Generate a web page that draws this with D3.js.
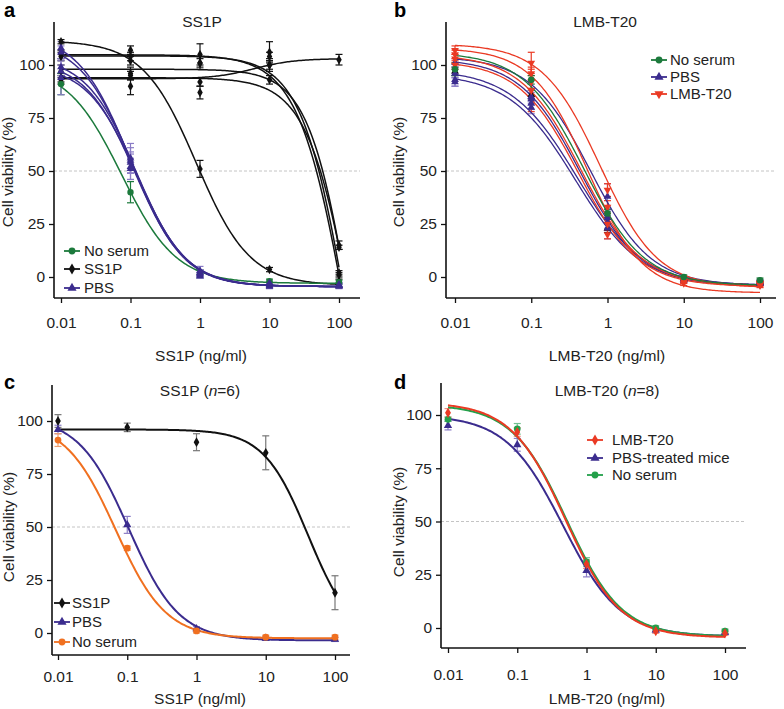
<!DOCTYPE html>
<html><head><meta charset="utf-8">
<script src="https://cdn.jsdelivr.net/npm/d3@7"></script>
<style>body{margin:0;background:#fff}</style></head><body>
<svg id="chart" width="784" height="709"></svg>
<script>
// ---------- data ----------
const doses = [0.01, 0.1, 1, 10, 100];
const doseTickLabels = ["0.01", "0.1", "1", "10", "100"];
const yTicks = [0, 25, 50, 75, 100];

// fit parameters: [low-dose asymptote, high-dose asymptote, EC50 (ng/ml), Hill slope]
// Panel a
const aBlackFits = [[111.5, -4, 0.885, 1.13], [104.8, -150, 135, 1.235], [104.3, -150, 140, 1.3], [98, -150, 162, 1.396], [94, -150, 175, 1.287], [93.5, 103, 6, 1.5]];
const aBlackPts = [[111, 102, 51, 3.5, -2], [105, 107, 105, 106, 1], [104, 104, 101, 104, 2], [97, 96, 101, 100, 15], [93, 90, 87, 93, 14], [94, 95, 92, 100, 102.5]];
const aBlackErr = [[1, 2, 4, 1, 1], [2, 2, 5, 5, 1], [2, 2, 2, 2, 1], [3, 3, 3, 3, 2], [2, 4, 3, 2, 1], [2, 2, 2, 2, 2.5]];
const aPurpleFits = [[115, -4.5, 0.1, 1.15], [112, -4.5, 0.105, 1.15], [104, -4.5, 0.12, 1.2], [102, -4.5, 0.118, 1.2], [100, -4.5, 0.125, 1.2]];
const aPurplePts = [[108, 56, 2, -3.5, -4], [106, 55, 1, -4, -4.5], [99, 54, 3, -3, -3.5], [97, 52, 0.5, -4.5, -4], [94, 51, 1.5, -3, -4]];
const aPurpleErr = [[3, 7, 1, 1, 1], [3, 6, 1, 1, 1], [4, 5, 2, 1, 1], [3, 6, 1, 1, 1], [8, 5, 2, 1, 1]];
const aGreenFits = [[100, -3, 0.074, 1.1]];
const aGreenPts = [[91, 40, 1.5, -2, -2.5]];
const aGreenErr = [[5, 5, 2, 1, 1]];

// Panel b
const bRedFits = [[110, -5, 0.8, 1.15], [108, -7.5, 0.55, 1.2], [105, -4, 0.45, 1.1], [102, -4.5, 0.42, 1.1]];
const bRedPts = [[107, 101, 41, -2, -3], [105, 96, 33, -3, -4], [103, 92, 20, -2, -3], [100, 88, 25, -1.5, -3.5]];
const bRedErr = [[2, 5, 3, 1, 1], [2, 3, 3, 1, 1], [2, 3, 2, 1, 1], [2, 10, 3, 1, 1]];
const bGreenFits = [[106, -4, 0.49, 1.1]];
const bGreenPts = [[98, 93, 30, 0, -1.5]];
const bGreenErr = [[3, 2, 2, 1, 1]];
const bPurpleFits = [[104, -4, 0.6, 1.1], [103, -4, 0.44, 1.1], [98, -4, 0.4, 1.0], [96, -4.5, 0.38, 1.0]];
const bPurplePts = [[93, 85, 38, -1, -2.5], [92, 82, 26, -1.5, -3], [101, 80, 23, -1, -2.5], [96, 84, 28, -1, -3]];
const bPurpleErr = [[3, 3, 6, 1, 1], [2, 3, 3, 1, 1], [2, 3, 5, 1, 1], [2, 3, 3, 1, 1]];
const bBlackPts = [[97, 86, 23, -1, -2.5]];
const bBlackErr = [[2, 2, 2, 1, 1]];

// Panel c
const cBlackFits = [[96, -4, 41, 1.35]];
const cBlackPts = [[100, 97, 90, 85, 19]];
const cBlackErr = [[3, 2, 4, 8, 8]];
const cPurpleFits = [[102, -3.5, 0.105, 1.2]];
const cPurplePts = [[96, 51, 2, -2.5, -3]];
const cPurpleErr = [[2, 4, 1, 1, 1]];
const cOrangeFits = [[100, -2.5, 0.068, 1.2]];
const cOrangePts = [[91, 40, 1, -2, -2]];
const cOrangeErr = [[3, 1, 1, 1, 1]];

// Panel d
const dRedFits = [[106, -4.5, 0.5, 1.1]];
const dRedPts = [[101, 92, 30, -1.5, -2.5]];
const dRedErr = [[2, 2, 2, 1, 1]];
const dGreenFits = [[105, -4, 0.52, 1.1]];
const dGreenPts = [[98, 93.5, 31, 0, -1.5]];
const dGreenErr = [[1, 2.5, 2, 1, 1]];
const dPurpleFits = [[100, -4, 0.46, 1.05]];
const dPurplePts = [[95, 86, 27, -1, -2]];
const dPurpleErr = [[2, 3, 3, 1, 1]];

// ---------- styles ----------
const FONT = "'Liberation Sans', Arial, Helvetica, sans-serif";
const C = { black: "#111", purple: "#3b2c8e", purpleErr: "#8a7cc6", green: "#1c7a3c", green2: "#23a04a", red: "#ea3a24", orange: "#f07020" };
const TICK_FS = 15.5, LABEL_FS = 15.5, TITLE_FS = 15.5, LEGEND_FS = 15;

const svg = d3.select("#chart");
svg.append("rect").attr("width", 784).attr("height", 709).attr("fill", "#fff");

function fourPL(p, x) { return p[1] + (p[0] - p[1]) / (1 + Math.pow(x / p[2], p[3])); }

function symbolPath(kind, size) {
  if (kind === "diamond") return d3.symbol(d3.symbolDiamond, size)();
  if (kind === "tri" || kind === "triDown") return d3.symbol(d3.symbolTriangle, size)();
  return d3.symbol(d3.symbolCircle, size)();
}

function drawPanel(cfg) {
  const g = svg.append("g");
  const x = d3.scaleLog().domain([0.01, 100]).range(cfg.xr);
  const y = d3.scaleLinear().domain([0, 100]).range(cfg.yr);

  // 50% reference line
  g.append("line").attr("x1", cfg.axisX).attr("x2", cfg.axisRight)
    .attr("y1", y(50)).attr("y2", y(50))
    .attr("stroke", "#c4c4c4").attr("stroke-width", 1).attr("stroke-dasharray", "3,2");

  // x axis
  const xa = g.append("g").attr("transform", `translate(0,${cfg.axisBottom})`)
    .call(d3.axisBottom(x).tickValues(doses).tickFormat((d, i) => doseTickLabels[i]).tickSize(5).tickSizeOuter(0));
  xa.select(".domain").remove();
  xa.selectAll(".tick line").attr("stroke", "#111").attr("stroke-width", 1.3);
  xa.selectAll(".tick text").attr("font-family", FONT).attr("font-size", TICK_FS).attr("fill", "#222")
    .attr("y", cfg.tickLabelOffset).attr("dy", 0);
  g.append("line").attr("x1", cfg.axisX).attr("x2", cfg.axisRight).attr("y1", cfg.axisBottom).attr("y2", cfg.axisBottom)
    .attr("stroke", "#111").attr("stroke-width", 1.6);

  // y axis
  const ya = g.append("g").attr("transform", `translate(${cfg.axisX},0)`)
    .call(d3.axisLeft(y).tickValues(yTicks).tickSize(5).tickSizeOuter(0));
  ya.select(".domain").remove();
  ya.selectAll(".tick line").attr("stroke", "#111").attr("stroke-width", 1.3);
  ya.selectAll(".tick text").attr("font-family", FONT).attr("font-size", TICK_FS).attr("fill", "#222").attr("x", -9);
  g.append("line").attr("x1", cfg.axisX).attr("x2", cfg.axisX).attr("y1", cfg.axisTop).attr("y2", cfg.axisBottom)
    .attr("stroke", "#111").attr("stroke-width", 1.6);

  // labels
  g.append("text").attr("x", cfg.panelLabel[0]).attr("y", cfg.panelLabel[1]).text(cfg.letter)
    .attr("font-family", FONT).attr("font-size", 20).attr("font-weight", "bold").attr("fill", "#000");
  const t = g.append("text").attr("x", cfg.title[0]).attr("y", cfg.title[1]).attr("text-anchor", "middle")
    .attr("font-family", FONT).attr("font-size", TITLE_FS).attr("fill", "#222");
  t.append("tspan").text(cfg.titleText);
  if (cfg.titleN) {
    t.append("tspan").text(" (");
    t.append("tspan").attr("font-style", "italic").text("n");
    t.append("tspan").text("=" + cfg.titleN + ")");
  }
  g.append("text").attr("transform", `translate(${cfg.yLabel[0]},${cfg.yLabel[1]}) rotate(-90)`)
    .attr("text-anchor", "middle").attr("font-family", FONT).attr("font-size", LABEL_FS).attr("fill", "#222")
    .text("Cell viability (%)");
  g.append("text").attr("x", cfg.xLabel[0]).attr("y", cfg.xLabel[1]).attr("text-anchor", "middle")
    .attr("font-family", FONT).attr("font-size", LABEL_FS).attr("fill", "#222").text(cfg.xLabelText);

  const samples = d3.range(0, 201).map(i => Math.pow(10, -2 + 4 * i / 200));
  const line = d3.line().x(d => x(d[0])).y(d => y(d[1]));

  // error bars
  cfg.groups.forEach(gr => {
    (gr.pts || []).forEach((row, si) => {
      row.forEach((v, i) => {
        const e = gr.err[si][i];
        if (v === null || !e) return;
        const cx = x(doses[i]);
        const col = gr.errColor || gr.color;
        g.append("line").attr("x1", cx).attr("x2", cx).attr("y1", y(v - e)).attr("y2", y(v + e))
          .attr("stroke", col).attr("stroke-width", 1.2);
        [v - e, v + e].forEach(b => g.append("line").attr("x1", cx - 3.5).attr("x2", cx + 3.5)
          .attr("y1", y(b)).attr("y2", y(b)).attr("stroke", col).attr("stroke-width", 1.2));
      });
    });
  });
  // fitted curves
  cfg.groups.forEach(gr => {
    (gr.fits || []).forEach(p => {
      g.append("path").datum(samples.map(s => [s, fourPL(p, s)])).attr("d", line)
        .attr("fill", "none").attr("stroke", gr.color).attr("stroke-width", cfg.lw);
    });
  });
  // markers
  cfg.groups.forEach(gr => {
    (gr.pts || []).forEach(row => {
      row.forEach((v, i) => {
        if (v === null) return;
        g.append("path").attr("d", symbolPath(gr.shape, gr.size || 30))
          .attr("transform", `translate(${x(doses[i])},${y(v)})` + (gr.shape === "triDown" ? " rotate(180)" : ""))
          .attr("fill", gr.color);
      });
    });
  });

  // legend
  cfg.legend.items.forEach((it, i) => {
    const ly = cfg.legend.rows[i], lx = cfg.legend.x;
    g.append("line").attr("x1", lx - 8).attr("x2", lx + 8).attr("y1", ly).attr("y2", ly)
      .attr("stroke", it.color).attr("stroke-width", 1.8);
    g.append("path").attr("d", symbolPath(it.shape, 36))
      .attr("transform", `translate(${lx},${ly})` + (it.shape === "triDown" ? " rotate(180)" : ""))
      .attr("fill", it.color);
    g.append("text").attr("x", cfg.legend.tx).attr("y", ly).attr("dy", "0.36em")
      .attr("font-family", FONT).attr("font-size", LEGEND_FS).attr("fill", "#222").text(it.label);
  });
}

drawPanel({
  letter: "a", panelLabel: [4, 17], titleText: "SS1P", title: [202, 27],
  xr: [61, 339], yr: [277, 65], axisX: 54, axisRight: 360, axisTop: 22, axisBottom: 298, tickLabelOffset: 30,
  yLabel: [13, 172], xLabel: [201, 361], xLabelText: "SS1P (ng/ml)", lw: 1.5,
  groups: [
    { fits: aBlackFits, pts: aBlackPts, err: aBlackErr, color: C.black, shape: "diamond", size: 26 },
    { fits: aGreenFits, pts: aGreenPts, err: aGreenErr, color: C.green, shape: "circle", size: 32 },
    { fits: aPurpleFits, pts: aPurplePts, err: aPurpleErr, color: C.purple, errColor: C.purpleErr, shape: "tri", size: 26 }
  ],
  legend: { x: 72, tx: 84, rows: [251, 269, 288], items: [
    { label: "No serum", color: C.green, shape: "circle" },
    { label: "SS1P", color: C.black, shape: "diamond" },
    { label: "PBS", color: C.purple, shape: "tri" }] }
});

drawPanel({
  letter: "b", panelLabel: [394, 17], titleText: "LMB-T20", title: [605, 27],
  xr: [455, 760], yr: [277, 65], axisX: 446, axisRight: 776, axisTop: 22, axisBottom: 298, tickLabelOffset: 30,
  yLabel: [404, 172], xLabel: [607, 361], xLabelText: "LMB-T20 (ng/ml)", lw: 1.3,
  groups: [
    { pts: bBlackPts, err: bBlackErr, color: C.black, shape: "tri", size: 26 },
    { fits: bPurpleFits, pts: bPurplePts, err: bPurpleErr, color: C.purple, errColor: C.purpleErr, shape: "tri", size: 26 },
    { fits: bRedFits, pts: bRedPts, err: bRedErr, color: C.red, shape: "triDown", size: 26 },
    { fits: bGreenFits, pts: bGreenPts, err: bGreenErr, color: C.green, shape: "circle", size: 34 }
  ],
  legend: { x: 659, tx: 670, rows: [60, 77, 94], items: [
    { label: "No serum", color: C.green, shape: "circle" },
    { label: "PBS", color: C.purple, shape: "tri" },
    { label: "LMB-T20", color: C.red, shape: "triDown" }] }
});

drawPanel({
  letter: "c", panelLabel: [4, 389], titleText: "SS1P", titleN: "6", title: [200, 396],
  xr: [58, 335], yr: [633, 421], axisX: 52, axisRight: 350, axisTop: 385, axisBottom: 655, tickLabelOffset: 27,
  yLabel: [14, 527], xLabel: [200, 704], xLabelText: "SS1P (ng/ml)", lw: 2,
  groups: [
    { fits: cBlackFits, pts: cBlackPts, err: cBlackErr, color: C.black, errColor: "#777", shape: "diamond", size: 28 },
    { fits: cPurpleFits, pts: cPurplePts, err: cPurpleErr, color: C.purple, errColor: C.purpleErr, shape: "tri", size: 30 },
    { fits: cOrangeFits, pts: cOrangePts, err: cOrangeErr, color: C.orange, errColor: "#f0a070", shape: "circle", size: 36 }
  ],
  legend: { x: 62, tx: 72, rows: [603, 622, 642], items: [
    { label: "SS1P", color: C.black, shape: "diamond" },
    { label: "PBS", color: C.purple, shape: "tri" },
    { label: "No serum", color: C.orange, shape: "circle" }] }
});

drawPanel({
  letter: "d", panelLabel: [394, 389], titleText: "LMB-T20", titleN: "8", title: [607, 396],
  xr: [448, 725], yr: [628, 415], axisX: 441, axisRight: 746, axisTop: 383, axisBottom: 648, tickLabelOffset: 32,
  yLabel: [404, 522], xLabel: [607, 704], xLabelText: "LMB-T20 (ng/ml)", lw: 2,
  groups: [
    { fits: dPurpleFits, pts: dPurplePts, err: dPurpleErr, color: C.purple, errColor: C.purpleErr, shape: "tri", size: 30 },
    { fits: dGreenFits, pts: dGreenPts, err: dGreenErr, color: C.green2, errColor: "#70c090", shape: "circle", size: 36 },
    { fits: dRedFits, pts: dRedPts, err: dRedErr, color: C.red, errColor: "#f09080", shape: "diamond", size: 30 }
  ],
  legend: { x: 595, tx: 612, rows: [440, 458, 475], items: [
    { label: "LMB-T20", color: C.red, shape: "diamond" },
    { label: "PBS-treated mice", color: C.purple, shape: "tri" },
    { label: "No serum", color: C.green2, shape: "circle" }] }
});
</script>
</body></html>
